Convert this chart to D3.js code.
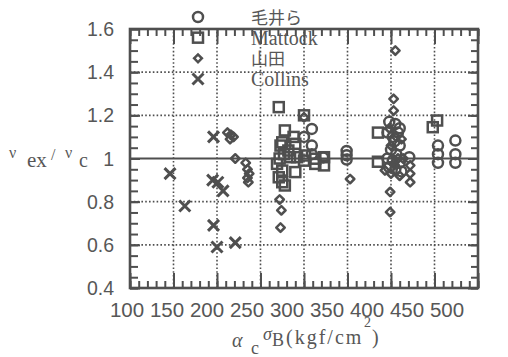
<!DOCTYPE html>
<html>
<head>
<meta charset="utf-8">
<script src="https://cdn.jsdelivr.net/npm/d3@7"></script>
<style>
  body { margin: 0; background: #fff; }
  svg { display: block; }
</style>
</head>
<body>
<div id="chart"></div>
<script>
// series names (legend)
const seriesNames = ["毛井ら", "Mattock", "山田", "Collins"];

// [x, y] pairs
const keiData = [
  [309, 1.137], [300, 1.10], [309, 1.06], [309, 1.02], [322, 1.005],
  [349, 1.035], [349, 1.015], [349, 0.995],
  [398, 1.17], [405, 1.16], [410, 1.14], [396, 1.12], [408, 1.12], [402, 1.10],
  [404, 1.08], [410, 1.06], [400, 1.04], [406, 1.02], [396, 1.00], [402, 0.99],
  [410, 0.98], [398, 0.96], [405, 0.95], [412, 0.94],
  [421, 1.006],
  [454, 1.06], [454, 1.02], [454, 0.98],
  [474, 1.083], [474, 1.02], [474, 0.98]
];
const mattockData = [
  [271, 1.238], [300, 1.20], [278, 1.13], [288, 1.10], [275, 1.075], [273, 1.06],
  [290, 1.068], [282, 1.037], [277, 1.02], [272, 1.0], [284, 1.006], [292, 1.006],
  [301, 1.014], [313, 0.999], [323, 1.006], [300, 0.99], [313, 0.975], [323, 0.968],
  [269, 0.975], [275, 0.944], [290, 0.937], [271, 0.913], [275, 0.89], [278, 0.875],
  [385, 1.12], [385, 0.985], [448, 1.145], [453, 1.176]
];
const yamadaData = [
  [212, 1.12], [216, 1.11], [219, 1.10], [215, 1.09], [221, 1.0],
  [233, 0.98], [235, 0.95], [237, 0.93], [235, 0.91], [236, 0.89],
  [272, 0.81], [274, 0.76], [273, 0.68], [300, 1.19], [353, 0.905],
  [405, 1.5], [403, 1.276], [403, 1.222],
  [398, 1.14], [406, 1.10], [412, 1.09], [400, 1.06], [408, 1.00], [414, 1.00],
  [404, 0.97], [400, 0.93], [410, 0.92], [393, 0.945],
  [399, 0.845], [399, 0.752],
  [422, 0.968], [422, 0.93], [422, 0.89]
];
const collinsData = [
  [146, 0.93], [163, 0.78], [196, 1.10], [195, 0.90], [201, 0.89],
  [207, 0.85], [196, 0.69], [200, 0.59], [221, 0.61]
];

const xTickLabels = ["100", "150", "200", "250", "300", "350", "400", "450", "500"];
const yTickLabels = ["0.4", "0.6", "0.8", "1", "1.2", "1.4", "1.6"];
const yTickValues = [0.4, 0.6, 0.8, 1.0, 1.2, 1.4, 1.6];

const ink = "#4f4f4f";
const textCol = "#575757";

const svg = d3.select("#chart").append("svg")
  .attr("width", 508)
  .attr("height", 357);

const x = d3.scaleLinear().domain([100, 500]).range([130, 478]);
const y = d3.scaleLinear().domain([0.4, 1.6]).range([288, 29]);

// grid
const grid = svg.append("g")
  .attr("stroke", ink)
  .attr("stroke-width", 1.6)
  .attr("stroke-dasharray", "1.6,2.2");
grid.selectAll(".gx").data(d3.range(150, 500, 50)).enter().append("line")
  .attr("x1", d => x(d)).attr("x2", d => x(d))
  .attr("y1", y(0.4)).attr("y2", y(1.6));
grid.selectAll(".gy").data([0.6, 0.8, 1.2, 1.4]).enter().append("line")
  .attr("x1", x(100)).attr("x2", x(500))
  .attr("y1", d => y(d)).attr("y2", d => y(d));

// reference line at 1
svg.append("line")
  .attr("x1", x(100)).attr("x2", x(500))
  .attr("y1", y(1)).attr("y2", y(1))
  .attr("stroke", ink).attr("stroke-width", 2);

// ticks (inward) on all four sides
function tickAxis(axisFn, scale, values, size, transform) {
  const g = svg.append("g")
    .attr("transform", transform)
    .call(axisFn(scale).tickValues(values).tickSize(-size).tickFormat(""));
  g.select(".domain").remove();
  g.selectAll("line").attr("stroke", ink).attr("stroke-width", 2);
}
const xMinor = d3.range(100, 501, 10);
const xMajor = d3.range(100, 501, 50);
const yMinor = d3.range(0.4, 1.601, 0.05);
tickAxis(d3.axisBottom, x, xMinor, 7, `translate(0,${y(0.4)})`);
tickAxis(d3.axisBottom, x, xMajor, 15, `translate(0,${y(0.4)})`);
tickAxis(d3.axisTop, x, xMinor, 7, `translate(0,${y(1.6)})`);
tickAxis(d3.axisTop, x, xMajor, 15, `translate(0,${y(1.6)})`);
tickAxis(d3.axisLeft, y, yMinor, 8, `translate(${x(100)},0)`);
tickAxis(d3.axisLeft, y, yTickValues, 10, `translate(${x(100)},0)`);
tickAxis(d3.axisRight, y, yMinor, 7, `translate(${x(500)},0)`);
tickAxis(d3.axisRight, y, yTickValues, 10, `translate(${x(500)},0)`);

// frame
svg.append("rect")
  .attr("x", x(100)).attr("y", y(1.6))
  .attr("width", x(500) - x(100)).attr("height", y(0.4) - y(1.6))
  .attr("fill", "none").attr("stroke", ink).attr("stroke-width", 2.6);

// tick labels (the original prints them a little tighter than the ticks)
const xLab = d3.scalePoint().domain(xTickLabels).range([127, 447]);
svg.append("g").selectAll("text").data(xTickLabels).enter().append("text")
  .attr("x", d => xLab(d)).attr("y", 317)
  .attr("text-anchor", "middle")
  .attr("font-family", "Liberation Sans, Arial, sans-serif")
  .attr("font-size", 20.5)
  .attr("fill", textCol)
  .text(d => d);
svg.append("g").selectAll("text").data(yTickValues).enter().append("text")
  .attr("x", 114).attr("y", d => y(d) + 7)
  .attr("text-anchor", "end")
  .attr("font-family", "Liberation Sans, Arial, sans-serif")
  .attr("font-size", 19.5)
  .attr("fill", textCol)
  .text((d, i) => yTickLabels[i]);

// markers
function symbolPath(type, size) {
  return d3.symbol().type(type).size(size)();
}
const markStroke = 2.5;
const crossPath = "M-5.5,-5.5L5.5,5.5M-5.5,5.5L5.5,-5.5";
function drawCircles(data) {
  svg.append("g").selectAll("circle").data(data).enter().append("circle")
    .attr("cx", d => x(d[0])).attr("cy", d => y(d[1])).attr("r", 5)
    .attr("fill", "none").attr("stroke", ink).attr("stroke-width", markStroke);
}
function drawSquares(data) {
  svg.append("g").selectAll("rect").data(data).enter().append("rect")
    .attr("x", d => x(d[0]) - 5).attr("y", d => y(d[1]) - 5)
    .attr("width", 10).attr("height", 10)
    .attr("fill", "none").attr("stroke", ink).attr("stroke-width", markStroke);
}
function drawDiamonds(data) {
  svg.append("g").selectAll("path").data(data).enter().append("path")
    .attr("transform", d => `translate(${x(d[0])},${y(d[1])}) rotate(45)`)
    .attr("d", symbolPath(d3.symbolSquare, 36))
    .attr("fill", "none").attr("stroke", ink).attr("stroke-width", markStroke)
    .attr("stroke-linejoin", "round");
}
function drawCrosses(data) {
  svg.append("g").selectAll("path").data(data).enter().append("path")
    .attr("transform", d => `translate(${x(d[0])},${y(d[1])})`)
    .attr("d", crossPath)
    .attr("fill", "none").attr("stroke", ink).attr("stroke-width", 3);
}
drawSquares(mattockData);
drawCircles(keiData);
drawDiamonds(yamadaData);
drawCrosses(collinsData);

// legend
const legendY = d3.scalePoint().domain(seriesNames).range([17, 79]);
const lg = svg.append("g");
lg.append("circle").attr("cx", 198).attr("cy", legendY(seriesNames[0])).attr("r", 5)
  .attr("fill", "none").attr("stroke", ink).attr("stroke-width", markStroke);
lg.append("rect").attr("x", 193).attr("y", legendY(seriesNames[1]) - 5)
  .attr("width", 10).attr("height", 10)
  .attr("fill", "none").attr("stroke", ink).attr("stroke-width", markStroke);
lg.append("path").attr("transform", `translate(198,${legendY(seriesNames[2])}) rotate(45)`)
  .attr("d", symbolPath(d3.symbolSquare, 30))
  .attr("fill", "none").attr("stroke", ink).attr("stroke-width", markStroke);
lg.append("path").attr("transform", `translate(198,${legendY(seriesNames[3])})`)
  .attr("d", crossPath)
  .attr("fill", "none").attr("stroke", ink).attr("stroke-width", 3);
lg.selectAll("text").data(seriesNames).enter().append("text")
  .attr("x", 251).attr("y", d => legendY(d) + 7)
  .attr("font-family", (d, i) => (i === 0 || i === 2) ? "Noto Sans CJK JP" : "Liberation Serif, serif")
  .attr("font-size", (d, i) => (i === 0 || i === 2) ? 17 : 20)
  .attr("fill", textCol)
  .text(d => d);

// y axis title: ν ex / ν c
const yt = svg.append("text")
  .attr("font-family", "Liberation Serif, serif")
  .attr("fill", textCol);
yt.append("tspan").attr("x", 9).attr("y", 158).attr("font-size", 16).text("ν");
yt.append("tspan").attr("x", 27).attr("y", 167).attr("font-size", 21).text("ex");
yt.append("tspan").attr("x", 51).attr("y", 160).attr("font-size", 16).text("/");
yt.append("tspan").attr("x", 65).attr("y", 158).attr("font-size", 16).text("ν");
yt.append("tspan").attr("x", 79).attr("y", 167).attr("font-size", 20).text("c");

// x axis title: α c σ B (kgf/cm2)
const xt = svg.append("text")
  .attr("font-family", "Liberation Serif, serif")
  .attr("fill", textCol);
xt.append("tspan").attr("x", 232).attr("y", 347).attr("font-size", 20).attr("font-style", "italic").text("α");
xt.append("tspan").attr("x", 251).attr("y", 354).attr("font-size", 18).text("c");
xt.append("tspan").attr("x", 263).attr("y", 340).attr("font-size", 18).attr("font-style", "italic").text("σ");
xt.append("tspan").attr("x", 272).attr("y", 346).attr("font-size", 18).text("B");
xt.append("tspan").attr("x", 286).attr("y", 344).attr("font-size", 20).attr("letter-spacing", 2).text("(kgf/cm");
xt.append("tspan").attr("x", 364).attr("y", 327).attr("font-size", 14).attr("letter-spacing", 0).text("2");
xt.append("tspan").attr("x", 372).attr("y", 344).attr("font-size", 20).text(")");
</script>
</body>
</html>
